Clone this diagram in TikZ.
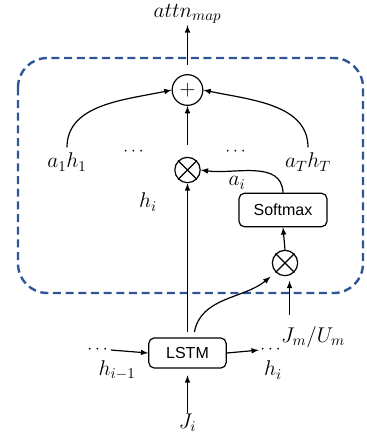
\RequirePackage{fix-cm}
\documentclass[tikz,border=0pt]{standalone}
\usepackage{amsmath, amssymb}
\usepackage{xcolor}
\usepackage{fontspec}
\setsansfont{Liberation Sans}
\usepackage{tikz}
\definecolor{frameblue}{RGB}{47,85,151}
\tikzset{
	lbl/.style={font=\fontsize{16}{19}\selectfont, inner sep=1pt},
	dts/.style={font=\fontsize{13}{15}\selectfont, inner sep=0pt},
	blk/.style={draw, rounded corners=4pt, line width=0.9pt, font=\sffamily\fontsize{12}{14}\selectfont},
	otimes/.style={circle, draw, line width=0.9pt, minimum size=19pt, inner sep=0pt,
		append after command={(\tikzlastnode.north east) edge[-, line width=0.9pt] (\tikzlastnode.south west)
		(\tikzlastnode.north west) edge[-, line width=0.9pt] (\tikzlastnode.south east)}},
	arr/.style={->, >=latex, line width=0.9pt}
}

\begin{document}
\begin{tikzpicture}[x=0.75pt, y=-0.75pt]
		\useasboundingbox (0,0) rectangle (367,444);
		\draw[frameblue, line width=1.8pt, dash pattern=on 6pt off 3.5pt, rounded corners=22pt] (18,58) rectangle (363,293);
		\node[lbl] (out) at (187.5,14) {$attn_{map}$};
		\node[circle, draw, line width=0.9pt, minimum size=23pt, inner sep=0pt, font=\fontsize{16}{19}\selectfont] (plus) at (187.5,90) {$+$};
		\node[lbl] (a1h1) at (67,162) {$a_1h_1$};
		\node[dts] (dotsl) at (135,152) {$\cdots$};
		\node[otimes] (mul) at (187.5,170) {};
		\node[dts] (dotsr) at (237,152) {$\cdots$};
		\node[lbl] (aThT) at (308,162) {$a_Th_T$};
		\node[lbl] (hi) at (148,202) {$h_i$};
		\node[blk, minimum width=66pt, minimum height=25pt] (soft) at (283,210) {Softmax};
		\node[lbl] (ai) at (237,183) {$a_i$};
		\node[otimes] (mul2) at (285,263) {};
		\node[lbl] (jm) at (313,337) {$J_m/U_m$};
		\node[blk, minimum width=58pt, minimum height=22.5pt] (lstm) at (187.5,353) {LSTM};
		\node[dts] (dotsin) at (99,350) {$\cdots$};
		\node[lbl] (hprev) at (117,370) {$h_{i-1}$};
		\node[dts] (dotsout) at (272,350) {$\cdots$};
		\node[lbl] (hnext) at (273,370) {$h_i$};
		\node[lbl] (ji) at (187.5,423) {$J_i$};

		\draw[arr, shorten <=7pt] (plus.north) -- (out.south);
		\draw[arr, shorten <=3pt] (a1h1.north) to[out=90, in=192] (plus.west);
		\draw[arr, shorten <=3pt] (aThT.north) to[out=90, in=-12] (plus.east);
		\draw[arr, shorten <=9pt] (mul.north) -- (plus.south);
		\draw[arr, shorten <=4pt] (lstm.north) -- (mul.south);
		\draw[arr] (soft.north) to[out=92, in=-8] (mul.east);
		\draw[arr] (mul2.north) -- (soft.south);
		\draw[arr, shorten >=4pt, shorten <=7pt] (jm.north -| mul2.-70) -- (mul2.-70);
		\draw[arr, shorten <=4pt, shorten >=5pt] ([xshift=4.5pt]lstm.north) to[out=80, in=220] (mul2.south west);
		\draw[arr] (dotsin.east) -- (lstm.west);
		\draw[arr, shorten >=1pt] (lstm.east) -- (dotsout.west);
		\draw[arr, shorten >=5pt] (ji.north) -- (lstm.south);
	\end{tikzpicture}
\end{document}
